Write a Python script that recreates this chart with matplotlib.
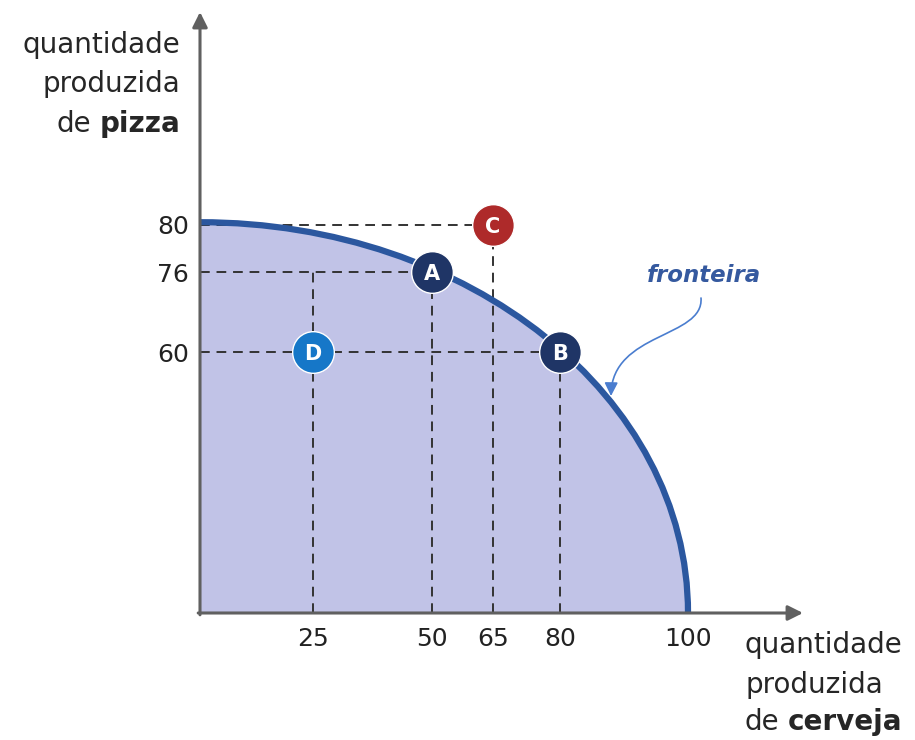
import numpy as np
import matplotlib.pyplot as plt
from matplotlib.patches import FancyArrowPatch, PathPatch
from matplotlib.path import Path

plt.rcParams['font.family'] = ['DejaVu Sans']

# frontier (cerveja, pizza): intercepts and bezier handles
front_x = [0, 59.2, 100, 100]
front_y = [80.6, 80.6, 49.7, 0]

# points
pt_names = ['A', 'B', 'C', 'D']
pt_x = [50, 80, 65, 25]
pt_y = [76, 60, 80, 60]
pt_colors = ['#1f3566', '#1f3566', '#ae2a2a', '#1677c8']

x_ticks = [25, 50, 65, 80, 100]
y_ticks = [60, 76, 80]

# the drawing is not to scale: piecewise axis (value -> pixel offset)
x_knots = [0, 25, 50, 65, 80, 100, 130]
x_pix = [0, 113, 232, 293, 360, 488, 620]
y_knots = [0, 60, 76, 80, 130]
y_pix = [0, 261, 341, 388, 620]


def fwd_x(v):
    return np.interp(v, x_knots, x_pix)


def inv_x(p):
    return np.interp(p, x_pix, x_knots)


def fwd_y(v):
    return np.interp(v, y_knots, y_pix)


def inv_y(p):
    return np.interp(p, y_pix, y_knots)


W, H = 915, 740
fig = plt.figure(figsize=(W / 100, H / 100), dpi=100)
ax = fig.add_axes([200 / W, 127 / H, 603 / W, 601 / H])
ax.set_xscale('function', functions=(fwd_x, inv_x))
ax.set_yscale('function', functions=(fwd_y, inv_y))
ax.set_xlim(0, float(inv_x(603)))
ax.set_ylim(0, float(inv_y(601)))
for s in ax.spines.values():
    s.set_visible(False)

curve = list(zip(front_x, front_y))
C4 = Path.CURVE4
area = Path([(0, 0)] + curve + [(0, 0)],
            [Path.MOVETO, Path.LINETO, C4, C4, C4, Path.CLOSEPOLY])
ax.add_patch(PathPatch(area, facecolor='#c1c3e7', lw=0, zorder=1))
line = Path(curve, [Path.MOVETO, C4, C4, C4])
ax.add_patch(PathPatch(line, facecolor='none', edgecolor='#2b579f', lw=4.5,
                       capstyle='butt', zorder=4))

# dashed guides
dash = dict(color='#333333', lw=1.4, ls=(0, (5, 3.5)), zorder=2)
for i in range(3):
    ax.plot([0, pt_x[i]], [pt_y[i], pt_y[i]], **dash)
    ax.plot([pt_x[i], pt_x[i]], [0, pt_y[i]], **dash)
# D sits under the 76 level and on the 60 level
ax.plot([pt_x[3], pt_x[3]], [0, pt_y[0]], **dash)

for n, x, y, c in zip(pt_names, pt_x, pt_y, pt_colors):
    ax.plot(x, y, 'o', ms=30, mfc=c, mec='white', mew=1.0, zorder=5)
    ax.text(x, y, n, color='white', fontsize=15, fontweight='bold',
            ha='center', va='center_baseline', zorder=6)

ax.set_xticks(x_ticks, [str(t) for t in x_ticks])
ax.set_yticks(y_ticks, [str(t) for t in y_ticks])
ax.tick_params(length=0, labelsize=18, colors='#222222')
ax.tick_params(axis='x', pad=10)
ax.tick_params(axis='y', pad=8)

arr = dict(arrowstyle='-|>,head_length=0.9,head_width=0.45', color='#606060',
           lw=2.2, shrinkA=0, shrinkB=0)
ax.annotate('', xy=(1, 0), xytext=(-0.003, 0), xycoords='axes fraction',
            arrowprops=arr, zorder=7, annotation_clip=False)
ax.annotate('', xy=(0, 1), xytext=(0, -0.003), xycoords='axes fraction',
            arrowprops=arr, zorder=7, annotation_clip=False)

# axis titles
lab = dict(fontsize=20, color='#262626', va='center')
fig.text(180 / W, 1 - 45 / H, 'quantidade', ha='right', **lab)
fig.text(180 / W, 1 - 84 / H, 'produzida', ha='right', **lab)
tp = fig.text(180 / W, 1 - 124 / H, 'pizza', ha='right', fontweight='bold', **lab)
fig.add_artist(plt.Annotation('de', xy=(0, 0.5), xycoords=tp, xytext=(-6, 0),
                              textcoords='offset points', ha='right', **lab))

fig.text(745 / W, 1 - 645 / H, 'quantidade', ha='left', **lab)
fig.text(745 / W, 1 - 685 / H, 'produzida', ha='left', **lab)
td = fig.text(745 / W, 1 - 722 / H, 'de', ha='left', **lab)
fig.add_artist(plt.Annotation('cerveja', xy=(1, 0.5), xycoords=td, xytext=(6, 0),
                              textcoords='offset points', ha='left',
                              fontweight='bold', **lab))

fig.text(704 / W, 1 - 276 / H, 'fronteira', ha='center', va='center', fontsize=16.5,
         fontweight='bold', style='italic', color='#35599f')

pts = [(701, 298), (704, 338), (612, 332), (611, 396)]
path = Path([(px / W, 1 - py / H) for px, py in pts],
            [Path.MOVETO, Path.CURVE4, Path.CURVE4, Path.CURVE4])
fig.patches.append(FancyArrowPatch(path=path, transform=fig.transFigure,
                                   arrowstyle='-|>,head_length=8,head_width=4',
                                   color='#4a7dcf', lw=1.2))

fig.savefig('out.png', dpi=100)
